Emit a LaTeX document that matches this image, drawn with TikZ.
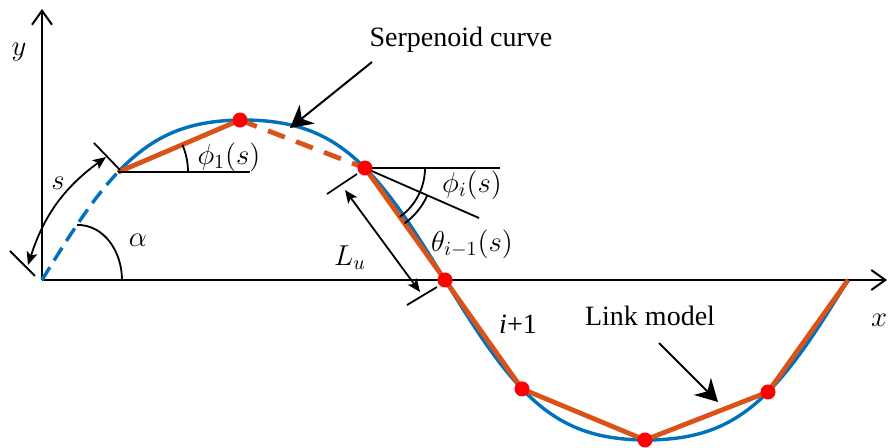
\documentclass[tikz,border=0pt]{standalone}
\usepackage{fontspec}
\setmainfont{Liberation Serif}
\usepackage{tikz}
\usetikzlibrary{arrows.meta, calc}

\definecolor{curveblue}{RGB}{0,114,189}
\definecolor{linkorange}{RGB}{217,83,25}

\tikzset{
  axis/.style={line width=1pt, -{Straight Barb[length=7pt, width=10pt]}},
  serp/.style={curveblue, line width=1.7pt},
  link/.style={linkorange, line width=2.4pt, line join=round},
  joint/.style={circle, fill=red, inner sep=0pt, minimum size=7.5pt},
  guide/.style={line width=0.9pt},
  pointer/.style={line width=1pt, -{Stealth[length=11pt, width=12pt, inset=3.5pt]}},
  dim/.style={line width=0.9pt, {Stealth[length=6.5pt, width=5.5pt, inset=1.5pt]}-{Stealth[length=6.5pt, width=5.5pt, inset=1.5pt]}},
  lbl/.style={font=\fontsize{14.4}{17}\selectfont, inner sep=0pt},
  txt/.style={font=\fontsize{14}{17}\selectfont, inner sep=0pt},
}

\begin{document}
\begin{tikzpicture}[x=0.5pt, y=-0.5pt,
  declare function={sy(\x)=280-160*(sin(deg(2*pi*(\x-42)/806))+0.07*sin(deg(6*pi*(\x-42)/806)))/0.93;}]
    \useasboundingbox (0,0) rectangle (888,448);

    % Axes
    \coordinate (o) at (42,280);
    \coordinate (ytip) at (42,9);
    \coordinate (xtip) at (887,280);
    \draw[axis] (o) -- (ytip);
    \draw[axis] (o) -- (xtip);
    \node[lbl] (ylab) at (19,52) {$y$};
    \node[lbl] (xlab) at (879,320) {$x$};

    % Serpenoid curve
    \draw[serp, dash pattern=on 7.5pt off 4pt] plot[domain=42:118, samples=25] (\x,{sy(\x)});
    \draw[serp] plot[domain=118:848, samples=120, smooth] (\x,{sy(\x)});

    % Link model
    \coordinate (p0) at (118,{sy(118)});
    \foreach \n/\xx in {1/240,2/365,3/445,4/522,5/645,6/768}
        \coordinate (q\n) at (\xx,{sy(\xx)});
    \coordinate (pe) at (848,280);
    \draw[link] (p0) -- (q1);
    \draw[link, dash pattern=on 9pt off 6pt] (q1) -- (q2);
    \draw[link] (q2) -- (q3) -- (q4) -- (q5) -- (q6) -- (pe);

    % Angle phi_1
    \coordinate (h1) at (250,{sy(118)});
    \draw[guide] (p0) -- (h1);
    \draw[guide] ($(p0)+(70,0)$) arc[start angle=0, end angle=23, radius=35pt];
    \node[lbl] (phi1) at (229,157) {$\phi_1(s)$};

    % Angles phi_i and theta_{i-1}
    \coordinate (h2) at (500,{sy(365)});
    \coordinate (ext) at (479,218);
    \draw[guide] (q2) -- (h2);
    \draw[guide] (q2) -- (ext);
    \draw[guide] ($(q2)+(60,0)$) arc[start angle=0, end angle=-54.5, radius=30pt];
    \draw[guide] ($(q2)+({68*cos(24)},{68*sin(24)})$) arc[start angle=-24, end angle=-54.5, radius=34pt];
    \node[lbl] (phii) at (472,185) {$\phi_i(s)$};
    \node[lbl] (theta) at (472,244) {$\theta_{i-1}(s)$};

    % Arc length s and angle alpha
    \coordinate (sa1) at (10,251);
    \coordinate (sa2) at (35,276);
    \coordinate (sb1) at (94,143);
    \coordinate (sb2) at (120,170);
    \coordinate (s0) at (28,265);
    \coordinate (s1) at (106,157);
    \draw[guide] (sa1) -- (sa2);
    \draw[guide] (sb1) -- (sb2);
    \draw[dim] (s0) to[bend left=18] (s1);
    \node[lbl] (slab) at (58,183) {$s$};
    \coordinate (a0) at (122,280);
    \coordinate (a1) at (77,{sy(77)});
    \draw[guide] (a0) to[out=90, in=0] (a1);
    \node[lbl] (alab) at (138,240) {$\alpha$};

    % Link length L_u
    \coordinate (la1) at (327,194);
    \coordinate (la2) at (357,174);
    \coordinate (lb1) at (407,305);
    \coordinate (lb2) at (437,287);
    \coordinate (l0) at (345,190);
    \coordinate (l1) at (420,292);
    \draw[guide] (la1) -- (la2);
    \draw[guide] (lb1) -- (lb2);
    \draw[dim] (l0) -- (l1);
    \node[lbl] (lulab) at (350,258) {$L_u$};

    % Annotations
    \node[txt] (serplab) at (461,40) {Serpenoid curve};
    \coordinate (st0) at (372,62);
    \coordinate (st1) at (290,128);
    \draw[pointer] (st0) -- (st1);
    \node[txt] (linklab) at (650,316) {Link model};
    \coordinate (lt0) at (659,343);
    \coordinate (lt1) at (718,402);
    \draw[pointer] (lt0) -- (lt1);
    \node[txt] (ilab) at (518,324) {\textit{i}+1};

    % Joints
    \foreach \n in {1,...,6}
        \node[joint] (j\n) at (q\n) {};
\end{tikzpicture}
\end{document}
